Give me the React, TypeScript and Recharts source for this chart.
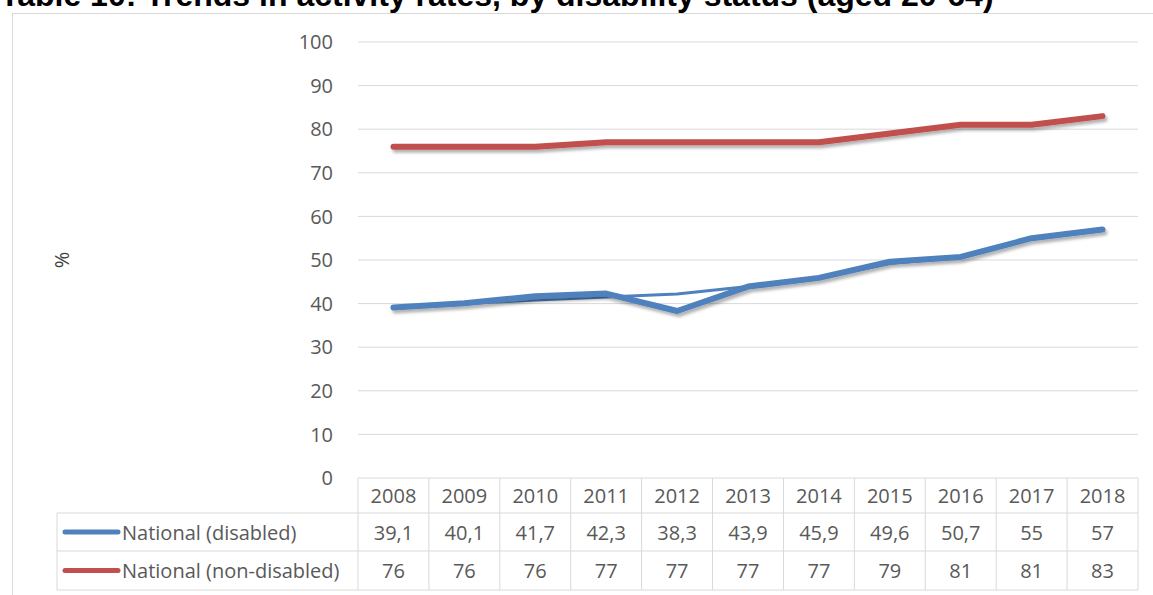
import { CartesianGrid, Line, LineChart, XAxis, YAxis } from 'recharts'

const years = ['2008', '2009', '2010', '2011', '2012', '2013', '2014', '2015', '2016', '2017', '2018']
const disabled = [39.1, 40.1, 41.7, 42.3, 38.3, 43.9, 45.9, 49.6, 50.7, 55, 57]
const nonDisabled = [76, 76, 76, 77, 77, 77, 77, 79, 81, 81, 83]
// thin companion line that Excel drew under the disabled series
const disabledTrend = [39.1, 40.0, 40.8, 41.5, 42.2, 43.9, 45.9, 49.2, 50.7, 55, 57]
const yTicks = [0, 10, 20, 30, 40, 50, 60, 70, 80, 90, 100]

const seriesNames = ['National (disabled)', 'National (non-disabled)']

const W = 1153
const H = 595
const PLOT_LEFT = 358
const PLOT_RIGHT = 1138
const BAND = (PLOT_RIGHT - PLOT_LEFT) / years.length
const LEGEND_LEFT = 57
const ROWS = [0, 35, 73, 112] // row borders below the plot
const BLUE = '#4F81BD'
const RED = '#C0504D'
const GRID = '#D9D9D9'
const TEXT = '#595959'
const FONT = '"Open Sans", sans-serif'

const chartData = years.map((year, i) => ({
  year,
  disabled: disabled[i],
  nonDisabled: nonDisabled[i],
  trend: disabledTrend[i],
}))

const fmt = (v: number) => String(v).replace('.', ',')

function TableTick({ x, y, index }: { x?: number; y?: number; index?: number }) {
  const i = index ?? 0
  const cx = x ?? 0
  const top = y ?? 0
  const left = cx - BAND / 2
  const right = cx + BAND / 2
  const rowMid = (r: number) => top + (ROWS[r] + ROWS[r + 1]) / 2
  const textProps = {
    fill: TEXT,
    fontSize: 20,
    fontFamily: FONT,
    textAnchor: 'middle' as const,
    dominantBaseline: 'central' as const,
  }
  return (
    <g>
      <line x1={left} x2={left} y1={top} y2={top + ROWS[3]} stroke={GRID} />
      {i === years.length - 1 && (
        <line x1={right} x2={right} y1={top} y2={top + ROWS[3]} stroke={GRID} />
      )}
      {ROWS.slice(1).map(r => (
        <line key={r} x1={left} x2={right} y1={top + r} y2={top + r} stroke={GRID} />
      ))}
      <text x={cx} y={rowMid(0)} {...textProps}>{years[i]}</text>
      <text x={cx} y={rowMid(1)} {...textProps}>{fmt(disabled[i])}</text>
      <text x={cx} y={rowMid(2)} {...textProps}>{fmt(nonDisabled[i])}</text>
      {i === 0 && (
        <g>
          <line x1={LEGEND_LEFT} x2={LEGEND_LEFT} y1={top + ROWS[1]} y2={top + ROWS[3]} stroke={GRID} />
          {ROWS.slice(1).map(r => (
            <line key={r} x1={LEGEND_LEFT} x2={left} y1={top + r} y2={top + r} stroke={GRID} />
          ))}
          {seriesNames.map((name, k) => (
            <g key={name}>
              <line
                x1={65}
                x2={118}
                y1={rowMid(k + 1)}
                y2={rowMid(k + 1)}
                stroke={k === 0 ? BLUE : RED}
                strokeWidth={5}
                strokeLinecap='round'
              />
              <text
                x={122}
                y={rowMid(k + 1)}
                {...textProps}
                textAnchor='start'
              >
                {name}
              </text>
            </g>
          ))}
        </g>
      )}
    </g>
  )
}

export default function App() {
  return (
    <div style={{ position: 'absolute', left: 0, top: 0, width: W, height: H, overflow: 'hidden', background: '#fff' }}>
      <svg width={W} height={H} style={{ position: 'absolute', left: 0, top: 0 }}>
        <defs>
          <filter id='lineShadow' x='-5%' y='-20%' width='110%' height='150%'>
            <feDropShadow dx='2' dy='3' stdDeviation='1.6' floodColor='#000' floodOpacity='0.3' />
          </filter>
        </defs>
        <rect x={12.5} y={13.5} width={1160} height={620} fill='none' stroke={GRID} />
        <text x={0} y={6} fontFamily='"Liberation Sans", Arial, sans-serif' fontWeight='bold' fontSize={32} fill='#000'>
          Table 10: Trends in activity rates, by disability status (aged 20-64)
        </text>
      </svg>
      <div style={{ position: 'absolute', left: 0, top: 0 }}>
        <LineChart
          width={W}
          height={H}
          data={chartData}
          margin={{ top: 42, right: W - PLOT_RIGHT, left: 0, bottom: 5 }}
        >
          <CartesianGrid vertical={false} stroke={GRID} strokeWidth={1} />
          <XAxis
            dataKey='year'
            scale='band'
            height={112}
            axisLine={false}
            tickLine={false}
            tickSize={0}
            tickMargin={0}
            interval={0}
            tick={<TableTick />}
          />
          <YAxis
            width={PLOT_LEFT}
            domain={[0, 100]}
            ticks={yTicks}
            axisLine={false}
            tickLine={false}
            tickSize={0}
            tickMargin={25}
            tick={{ fill: TEXT, fontSize: 20, fontFamily: FONT }}
            label={{
              value: '%',
              angle: -90,
              position: 'insideLeft',
              offset: 62,
              style: { textAnchor: 'middle', fill: '#404040', fontSize: 20, fontFamily: FONT },
            }}
          />
          <Line
            dataKey='trend'
            stroke={BLUE}
            strokeWidth={3}
            dot={false}
            activeDot={false}
            strokeLinecap='round'
            strokeLinejoin='round'
            isAnimationActive={false}
            legendType='none'
          />
          <Line
            dataKey='disabled'
            name={seriesNames[0]}
            stroke={BLUE}
            strokeWidth={6}
            dot={false}
            strokeLinecap='round'
            strokeLinejoin='round'
            filter='url(#lineShadow)'
            isAnimationActive={false}
          />
          <Line
            dataKey='nonDisabled'
            name={seriesNames[1]}
            stroke={RED}
            strokeWidth={6}
            dot={false}
            strokeLinecap='round'
            strokeLinejoin='round'
            filter='url(#lineShadow)'
            isAnimationActive={false}
          />
        </LineChart>
      </div>
    </div>
  )
}
